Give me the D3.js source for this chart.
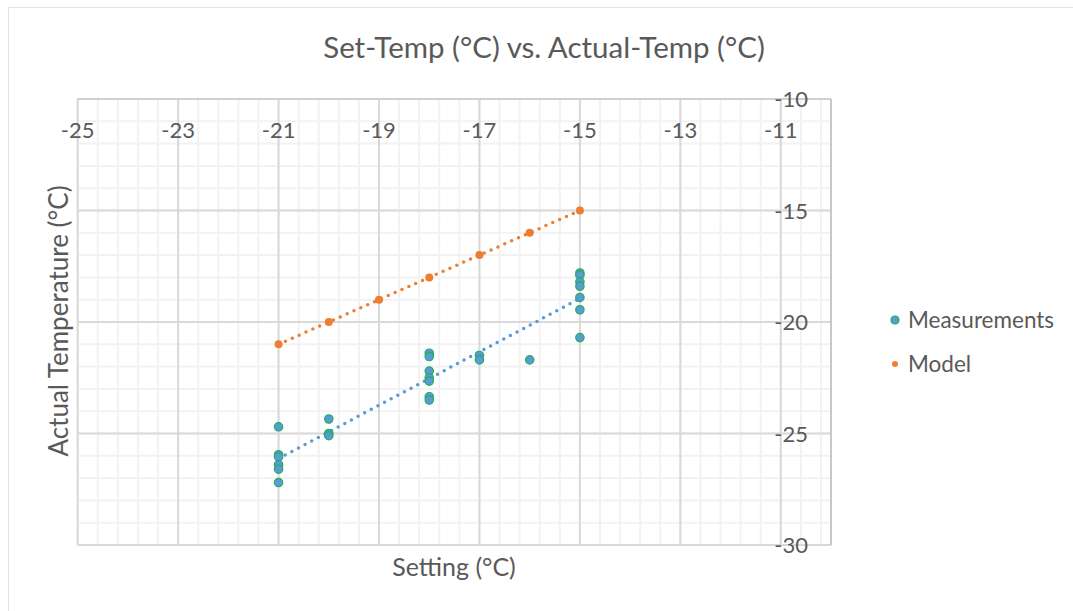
<!DOCTYPE html>
<html lang="en">
<head>
    <meta charset="UTF-8">
    <title>Set-Temp vs. Actual-Temp</title>
    <script src="https://d3js.org/d3.v7.min.js"></script>
    <style>
        body { margin: 0; background: #fff; }
        svg { font-family: Lato, "Open Sans", sans-serif; }
        text { fill: #595959; }
    </style>
</head>
<body>
    <svg width="1073" height="611"></svg>

    <script>
        // Measurements (setting, actual)
        const measX = [-21, -21, -21, -21, -21, -21,
                       -20, -20, -20,
                       -18, -18, -18, -18, -18, -18, -18,
                       -17, -17,
                       -16,
                       -15, -15, -15, -15, -15, -15, -15];
        const measY = [-24.7, -25.95, -26.05, -26.4, -26.6, -27.2,
                       -24.35, -25.0, -25.1,
                       -21.4, -21.55, -22.2, -22.5, -22.65, -23.35, -23.5,
                       -21.5, -21.7,
                       -21.7,
                       -17.8, -17.9, -18.2, -18.4, -18.9, -19.45, -20.7];

        // Model (setting == actual)
        const modelX = [-21, -20, -19, -18, -17, -16, -15];
        const modelY = [-21, -20, -19, -18, -17, -16, -15];

        const xTicks = [-25, -23, -21, -19, -17, -15, -13, -11];
        const yTicks = [-10, -15, -20, -25, -30];
        const legendNames = ["Measurements", "Model"];

        const svg = d3.select("svg");

        // chart frame
        svg.append("rect")
            .attr("x", 8.5).attr("y", 7.5)
            .attr("width", 1100).attr("height", 700)
            .attr("fill", "none").attr("stroke", "#e3e3e3");

        const x = d3.scaleLinear().domain([-25, -10]).range([77.7, 831]);
        const y = d3.scaleLinear().domain([-30, -10]).range([545, 99]);

        // minor grid
        const g = svg.append("g");
        const minorX = d3.range(0, 38).map(i => -25 + i * 0.4);
        const minorY = d3.range(-30, -9, 1);
        g.selectAll(".mx").data(minorX).enter().append("line")
            .attr("x1", d => x(d)).attr("x2", d => x(d))
            .attr("y1", y(-30)).attr("y2", y(-10))
            .attr("stroke", "#f2f2f2").attr("stroke-width", 2);
        g.selectAll(".my").data(minorY).enter().append("line")
            .attr("x1", x(-25)).attr("x2", x(-10))
            .attr("y1", d => y(d)).attr("y2", d => y(d))
            .attr("stroke", "#f2f2f2").attr("stroke-width", 2);

        // major grid
        g.selectAll(".Mx").data(xTicks).enter().append("line")
            .attr("x1", d => x(d)).attr("x2", d => x(d))
            .attr("y1", y(-30)).attr("y2", y(-10))
            .attr("stroke", "#d9d9d9").attr("stroke-width", 2);
        g.selectAll(".My").data(yTicks).enter().append("line")
            .attr("x1", x(-25)).attr("x2", x(-10))
            .attr("y1", d => y(d)).attr("y2", d => y(d))
            .attr("stroke", "#d9d9d9").attr("stroke-width", 2);

        // axis lines (x axis at top, y axis at right)
        g.append("line")
            .attr("x1", x(-25)).attr("x2", x(-10))
            .attr("y1", y(-10)).attr("y2", y(-10))
            .attr("stroke", "#d0d0d0").attr("stroke-width", 2);
        g.append("line")
            .attr("x1", x(-10)).attr("x2", x(-10))
            .attr("y1", y(-30)).attr("y2", y(-10))
            .attr("stroke", "#c8c8c8").attr("stroke-width", 2);

        // tick labels
        svg.selectAll(".xt").data(xTicks).enter().append("text")
            .attr("x", d => x(d)).attr("y", 138)
            .attr("text-anchor", "middle")
            .attr("font-size", 22)
            .text(d => d);
        svg.selectAll(".yt").data(yTicks).enter().append("text")
            .attr("x", 808).attr("y", d => y(d) + 8)
            .attr("text-anchor", "end")
            .attr("font-size", 22)
            .text(d => d);

        // trendlines
        const line = d3.line().x(d => x(d[0])).y(d => y(d[1]));
        const n = measX.length;
        const mx = d3.mean(measX), my = d3.mean(measY);
        let sxy = 0, sxx = 0;
        for (let i = 0; i < n; i++) {
            sxy += (measX[i] - mx) * (measY[i] - my);
            sxx += (measX[i] - mx) ** 2;
        }
        const slope = sxy / sxx, icpt = my - slope * mx;
        const [x0, x1] = d3.extent(measX);
        svg.append("path")
            .attr("d", line([[x0, icpt + slope * x0], [x1, icpt + slope * x1]]))
            .attr("fill", "none").attr("stroke", "#5b9bd5")
            .attr("stroke-width", 3.5).attr("stroke-linecap", "round")
            .attr("stroke-dasharray", "0 7.5");
        svg.append("path")
            .attr("d", line([[modelX[0], modelY[0]], [modelX[modelX.length - 1], modelY[modelY.length - 1]]]))
            .attr("fill", "none").attr("stroke", "#ed7d31")
            .attr("stroke-width", 3.5).attr("stroke-linecap", "round")
            .attr("stroke-dasharray", "0 7.5");

        // points
        svg.selectAll(".m").data(measX).enter().append("circle")
            .attr("cx", d => x(d)).attr("cy", (d, i) => y(measY[i]))
            .attr("r", 4.2)
            .attr("fill", "#5b9bd5").attr("stroke", "#1fae5a").attr("stroke-width", 1.2);
        svg.selectAll(".o").data(modelX).enter().append("circle")
            .attr("cx", d => x(d)).attr("cy", (d, i) => y(modelY[i]))
            .attr("r", 4)
            .attr("fill", "#ed7d31");

        // titles
        svg.append("text")
            .attr("x", 544).attr("y", 58)
            .attr("text-anchor", "middle").attr("font-size", 29.5)
            .text("Set-Temp (°C) vs. Actual-Temp (°C)");
        svg.append("text")
            .attr("transform", "translate(68,321) rotate(-90)")
            .attr("text-anchor", "middle").attr("font-size", 26)
            .text("Actual Temperature (°C)");
        svg.append("text")
            .attr("x", 454).attr("y", 576)
            .attr("text-anchor", "middle").attr("font-size", 25)
            .text("Setting (°C)");

        // legend
        const leg = svg.selectAll(".leg").data(legendNames).enter().append("g")
            .attr("transform", (d, i) => `translate(895,${320 + i * 44})`);
        leg.append("circle")
            .attr("r", (d, i) => i === 0 ? 4 : 3)
            .attr("fill", (d, i) => i === 0 ? "#5b9bd5" : "#ed7d31")
            .attr("stroke", (d, i) => i === 0 ? "#1fae5a" : "none")
            .attr("stroke-width", 1.2);
        leg.append("text")
            .attr("x", 13).attr("y", 8)
            .attr("font-size", 22.5)
            .text(d => d);
    </script>
</body>
</html>
